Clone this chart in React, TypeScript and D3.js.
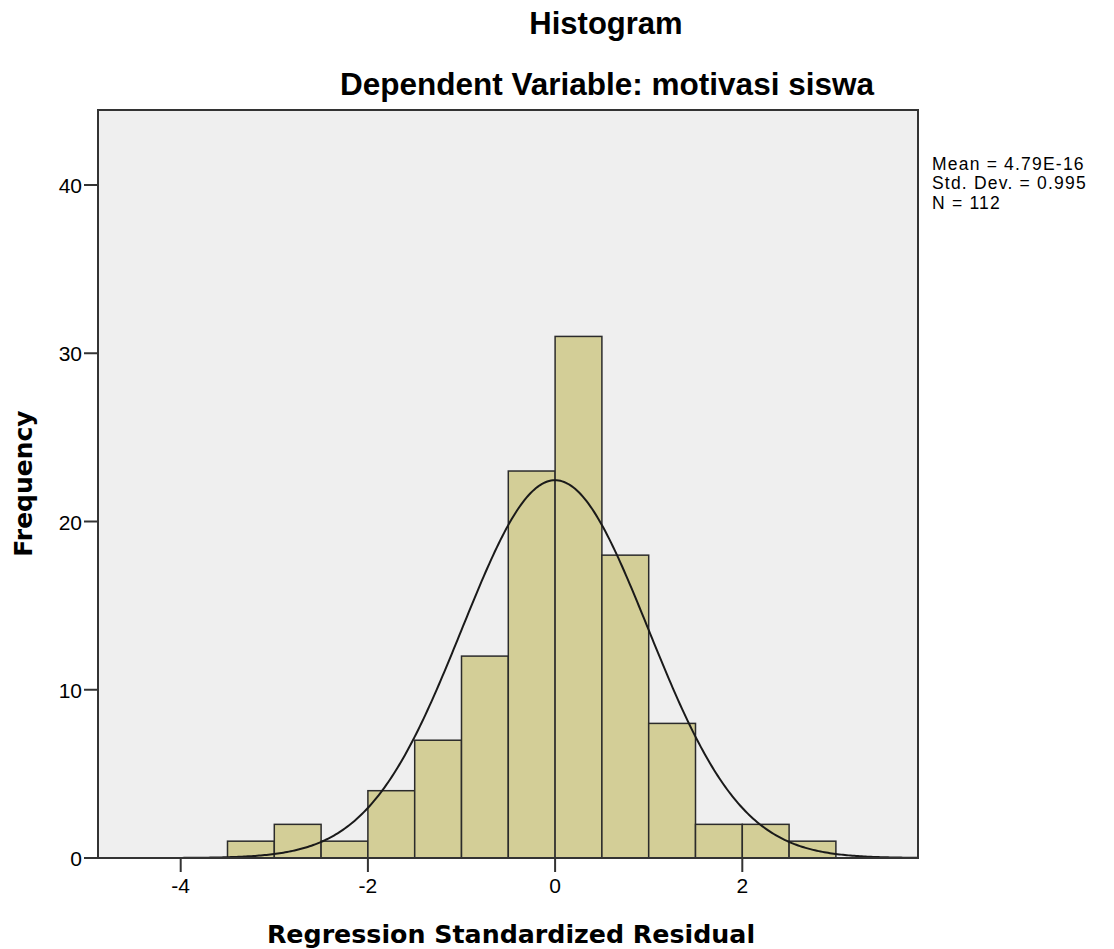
import React from "react";
import * as d3 from "d3";

const binStarts = [-3.5, -3.0, -2.5, -2.0, -1.5, -1.0, -0.5, 0.0, 0.5, 1.0, 1.5, 2.0, 2.5];
const counts = [1, 2, 1, 4, 7, 12, 23, 31, 18, 8, 2, 2, 1];
const binWidth = 0.5;
const xTicks = [-4, -2, 0, 2];
const yTicks = [0, 10, 20, 30, 40];
const statsLines = ["Mean = 4.79E-16", "Std. Dev. = 0.995", "N = 112"];
const mean = 4.79e-16;
const sd = 0.995;
const n = 112;

export default function App() {
  const W = 1114, H = 949;
  const left = 98, right = 918, top = 110, bottom = 858;
  const x = d3.scaleLinear().domain([-4, 2]).range([180.7, 742.3]);
  const xDom = [x.invert(left), x.invert(right)];
  const y = d3.scaleLinear().domain([0, 40]).range([bottom, 185]);

  const curveXs = d3.range(xDom[0], xDom[1] + 0.001, 0.02);
  const pdf = (v: number) =>
    (n * binWidth) / (sd * Math.sqrt(2 * Math.PI)) * Math.exp(-0.5 * ((v - mean) / sd) ** 2);
  const line = d3.line<number>().x((v) => x(v)).y((v) => y(pdf(v)));

  const font = "'Liberation Sans', Arial, sans-serif";
  const axFont = "'DejaVu Sans', sans-serif";
  return (
    <svg width={W} height={H} style={{ display: "block", position: "absolute", left: 0, top: 0 }} fontFamily={font}>
      <rect x={0} y={0} width={W} height={H} fill="#ffffff" />
      <text x={606} y={34} textAnchor="middle" fontSize={31} fontWeight="bold" fill="#000">Histogram</text>
      <text x={607} y={95} textAnchor="middle" fontSize={31.5} fontWeight="bold" fill="#000">Dependent Variable: motivasi siswa</text>
      <rect x={left} y={top} width={right - left} height={bottom - top} fill="#efefef" />
      {binStarts.map((b, i) => (
        <rect key={i} x={x(b)} y={y(counts[i])} width={x(b + binWidth) - x(b)} height={bottom - y(counts[i])}
          fill="#d3ce97" stroke="#2b2b2b" strokeWidth={1.5} />
      ))}
      <path d={line(curveXs) || ""} fill="none" stroke="#1a1a1a" strokeWidth={2} />
      <rect x={left} y={top} width={right - left} height={bottom - top} fill="none" stroke="#333" strokeWidth={2} />
      {yTicks.map((t) => (
        <g key={t}>
          <line x1={left - 14} x2={left} y1={y(t)} y2={y(t)} stroke="#333" strokeWidth={2} />
          <text x={82} y={y(t) + 8} textAnchor="end" fontSize={21} fill="#000">{t}</text>
        </g>
      ))}
      {xTicks.map((t) => (
        <g key={t}>
          <line x1={x(t)} x2={x(t)} y1={bottom} y2={bottom + 14} stroke="#333" strokeWidth={2} />
          <text x={x(t)} y={893} textAnchor="middle" fontSize={21} fill="#000">{t}</text>
        </g>
      ))}
      <text x={511} y={943} textAnchor="middle" fontSize={25.3} fontWeight="bold" fontFamily={axFont} fill="#000">Regression Standardized Residual</text>
      <text transform={`translate(32,${483.5}) rotate(-90)`} textAnchor="middle" fontSize={25} fontWeight="bold" fontFamily={axFont} fill="#000">Frequency</text>
      {statsLines.map((s, i) => (
        <text key={i} x={932} y={169.5 + i * 19.5} fontSize={17.5} letterSpacing={1.2} fill="#000">{s}</text>
      ))}
    </svg>
  );
}
